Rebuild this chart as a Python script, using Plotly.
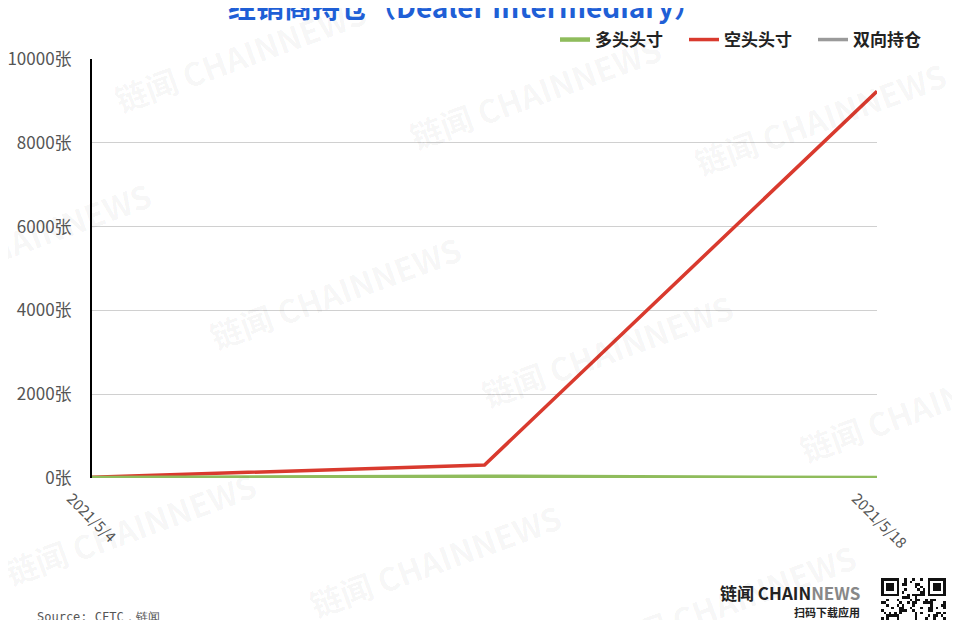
import base64
import plotly.graph_objects as go

dates = ["2021/5/4", "2021/5/11", "2021/5/18"]
long_pos = [0, 30, 0]
short_pos = [20, 310, 9230]
spread_pos = [0, 0, 0]
series_names = ["多头头寸", "空头头寸", "双向持仓"]
series_colors = ["#8fbc5c", "#d93a2e", "#9a9a9a"]
y_ticks = [0, 2000, 4000, 6000, 8000, 10000]
y_tick_labels = [f"{v}张" for v in y_ticks]
x_tick_labels = ["2021/5/4", "2021/5/18"]

FONT = "Noto Sans CJK SC, Noto Sans, sans-serif"

# plot-area geometry in screen pixels (page is offset 8px by body margin)
PL, PR, PT, PB = 92, 877, 59, 478


def px(sx):
    return (sx - PL) / (PR - PL)


def py(sy):
    return (PB - sy) / (PB - PT)


fig = go.Figure()
for name, vals, col, w in [(series_names[2], spread_pos, series_colors[2], 3.5),
                           (series_names[1], short_pos, series_colors[1], 3.5),
                           (series_names[0], long_pos, series_colors[0], 4.5)]:
    fig.add_trace(go.Scatter(x=dates, y=vals, mode="lines", name=f"<b>{name}</b>",
                             line=dict(color=col, width=w)))

# watermarks
wm = [(240, 55), (535, 92), (820, 118), (25, 238), (335, 292), (607, 350), (925, 405),
      (130, 528), (435, 560), (730, 600)]
for (sx, sy) in wm:
    fig.add_annotation(x=px(sx), y=py(sy), xref="paper", yref="paper",
                       text="<b>链闻 CHAINNEWS</b>", showarrow=False, textangle=-20,
                       font=dict(size=32, color="rgba(0,0,0,0.045)", family=FONT),
                       xanchor="center", yanchor="middle")

fig.update_layout(
    width=960, height=620,
    paper_bgcolor="white", plot_bgcolor="white",
    margin=dict(l=PL - 8, r=968 - PR, t=PT - 8, b=628 - PB, autoexpand=False),
    font=dict(family=FONT, color="#555555", size=15),
    showlegend=True,
    legend=dict(orientation="h", x=px(942), xanchor="right", y=py(40), yanchor="middle",
                traceorder="reversed", font=dict(size=17, color="#222222"),
                itemwidth=30, entrywidth=84, entrywidthmode="pixels",
                bgcolor="rgba(0,0,0,0)"),
    xaxis=dict(type="category", tickmode="array", tickvals=x_tick_labels,
               ticktext=x_tick_labels, tickangle=45, showgrid=False,
               showline=False, zeroline=False, ticks="",
               ticklabelshift=-21, ticklabelstandoff=8,
               tickfont=dict(size=15, color="#555555"), range=[0, 2]),
    yaxis=dict(range=[0, 10000], tickvals=y_ticks, ticktext=y_tick_labels,
               showgrid=True, gridcolor="#d0d0d0", gridwidth=1,
               showline=True, linecolor="#000000", linewidth=2,
               zeroline=False, ticks="", ticklabelstandoff=15,
               tickfont=dict(size=17, color="#555555")),
)

# title (cut off at top)
fig.add_annotation(x=px(465), y=py(6), xref="paper", yref="paper",
                   text="<b>经销商持仓（Dealer Intermediary）</b>", showarrow=False,
                   font=dict(size=28, color="#1f5fd6", family=FONT),
                   xanchor="center", yanchor="middle")
# source
fig.add_annotation(x=px(35), y=py(617), xref="paper", yref="paper",
                   text="Source: CFTC，链闻", showarrow=False,
                   font=dict(size=12, color="#555555", family="DejaVu Sans Mono, monospace"),
                   xanchor="left", yanchor="middle")
# logo
fig.add_annotation(x=px(862), y=py(592), xref="paper", yref="paper",
                   text="<b>链闻 CHAIN</b><span style='color:#888'><b>NEWS</b></span>",
                   showarrow=False, font=dict(size=17, color="#222222", family=FONT),
                   xanchor="right", yanchor="middle")
fig.add_annotation(x=px(862), y=py(612), xref="paper", yref="paper",
                   text="<b>扫码下载应用</b>", showarrow=False,
                   font=dict(size=11, color="#222222", family=FONT),
                   xanchor="right", yanchor="middle")

# QR-like decoration as an SVG image
N = 25
def finder(ox, oy):
    out = []
    for i in range(7):
        for j in range(7):
            if i in (0, 6) or j in (0, 6) or (2 <= i <= 4 and 2 <= j <= 4):
                out.append((ox + i, oy + j))
    return out
cells = set(finder(0, 0) + finder(N - 7, 0) + finder(0, N - 7))
for i in range(N):
    for j in range(N):
        in_f = (i < 8 and j < 8) or (i >= N - 8 and j < 8) or (i < 8 and j >= N - 8)
        if not in_f and ((i * 7 + j * 13) ^ (i * j)) % 3 == 0:
            cells.add((i, j))
svg = ["<svg xmlns='http://www.w3.org/2000/svg' viewBox='0 0 %d %d' shape-rendering='crispEdges'>" % (N, N),
       "<rect width='%d' height='%d' fill='white'/>" % (N, N)]
for (i, j) in cells:
    svg.append("<rect x='%d' y='%d' width='1' height='1' fill='#111'/>" % (i, j))
svg.append("</svg>")
src = "data:image/svg+xml;base64," + base64.b64encode("".join(svg).encode()).decode()
fig.add_layout_image(source=src, xref="paper", yref="paper",
                     x=px(881), y=py(578), sizex=px(946) - px(881), sizey=py(578) - py(643),
                     xanchor="left", yanchor="top", sizing="stretch", layer="above")

fig.write_html("out.html")
